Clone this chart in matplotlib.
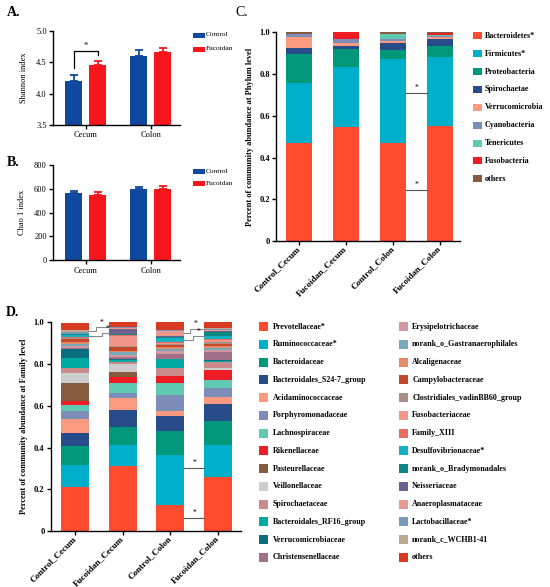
import matplotlib
matplotlib.use("Agg")
import matplotlib.pyplot as plt
import matplotlib.transforms as mtransforms
from matplotlib.patches import Rectangle
import numpy as np

plt.rcParams["font.family"] = ["Liberation Serif", "DejaVu Serif"]

W, H = 550, 587

# ---- panel A / B : alpha diversity ----
sites = ["Cecum", "Colon"]
groups = ["Control", "Fucoidan"]
group_colors = ["#1048A0", "#F8161C"]
shannon_mean = [[4.20, 4.59], [4.45, 4.66]]   # [group][site]
shannon_err = [[0.10, 0.11], [0.07, 0.06]]
chao_mean = [[563, 594], [549, 599]]
chao_err = [[14, 22], [19, 25]]

# ---- panel C : phylum level ----
samples = ["Control_Cecum", "Fucoidan_Cecum", "Control_Colon", "Fucoidan_Colon"]
phyla = ["Bacteroidetes*", "Firmicutes*", "Proteobacteria", "Spirochaetae",
         "Verrucomicrobia", "Cyanobacteria", "Tenericutes", "Fusobacteria", "others"]
phylum_colors = ["#FF4B2E", "#00B0CA", "#00977A", "#284C8A", "#FB9A7E",
                 "#7B8DB8", "#5FC9B2", "#EE1C25", "#875B3E"]
phy_control_cecum = [0.468, 0.291, 0.139, 0.025, 0.055, 0.013, 0.003, 0.000, 0.006]
phy_fucoidan_cecum = [0.548, 0.287, 0.084, 0.014, 0.014, 0.021, 0.002, 0.030, 0.000]
phy_control_colon = [0.468, 0.406, 0.041, 0.035, 0.010, 0.006, 0.028, 0.000, 0.006]
phy_fucoidan_colon = [0.553, 0.329, 0.054, 0.032, 0.008, 0.008, 0.005, 0.006, 0.005]
phy_sig_levels = [0.711, 0.243]

# ---- panel D : family level ----
families = ["Prevotellaceae*", "Ruminococcaceae*", "Bacteroidaceae",
            "Bacteroidales_S24-7_group", "Acidaminococcaceae", "Porphyromonadaceae",
            "Lachnospiraceae", "Rikenellaceae", "Pasteurellaceae", "Veillonellaceae",
            "Spirochaetaceae", "Bacteroidales_RF16_group", "Verrucomicrobiaceae",
            "Christensenellaceae", "Erysipelotrichaceae", "norank_o_Gastranaerophilales",
            "Alcaligenaceae", "Campylobacteraceae", "Clostridiales_vadinBB60_group",
            "Fusobacteriaceae", "Family_XIII", "Desulfovibrionaceae*",
            "norank_o_Bradymonadales", "Neisseriaceae", "Anaeroplasmataceae",
            "Lactobacillaceae*", "norank_c_WCHB1-41", "others"]
family_colors = ["#FF4B2E", "#00B0CA", "#00977A", "#284C8A", "#FB9A7E", "#7B8DB8",
                 "#5FC9B2", "#EE1C25", "#875B3E", "#CDCDCD", "#C98A8A", "#00A9A2",
                 "#0A6E7E", "#A27089", "#D3979F", "#78A9B8", "#E38A69", "#C7472A",
                 "#A99088", "#F2958A", "#E86F5F", "#12B2C4", "#0E8880", "#6E6190",
                 "#EA9990", "#7A99B9", "#BAAA91", "#D93A22"]
fam_control_cecum = [0.209, 0.109, 0.091, 0.059, 0.070, 0.037, 0.027, 0.021, 0.088,
                     0.048, 0.024, 0.044, 0.044, 0.008, 0.006, 0.013, 0.007, 0.013,
                     0.005, 0.004, 0.004, 0.008, 0.003, 0.002, 0.002, 0.006, 0.010,
                     0.037]
fam_fucoidan_cecum = [0.313, 0.099, 0.086, 0.082, 0.057, 0.026, 0.045, 0.028, 0.024,
                      0.042, 0.008, 0.008, 0.008, 0.006, 0.010, 0.014, 0.008, 0.018,
                      0.005, 0.045, 0.005, 0.004, 0.004, 0.022, 0.004, 0.005, 0.002,
                      0.024]
fam_control_colon = [0.125, 0.241, 0.113, 0.074, 0.024, 0.075, 0.059, 0.032, 0.001,
                     0.001, 0.035, 0.043, 0.003, 0.024, 0.012, 0.010, 0.010, 0.008,
                     0.008, 0.005, 0.004, 0.020, 0.004, 0.003, 0.025, 0.003, 0.001,
                     0.040]
fam_fucoidan_colon = [0.257, 0.155, 0.115, 0.083, 0.034, 0.043, 0.037, 0.046, 0.002,
                      0.009, 0.029, 0.004, 0.004, 0.040, 0.008, 0.012, 0.010, 0.006,
                      0.012, 0.010, 0.006, 0.010, 0.021, 0.006, 0.004, 0.006, 0.002,
                      0.029]
fam_sig_levels = [0.300, 0.061]
# step brackets near the top: (y at left bar, y at right bar)
fam_step_cecum = [(0.958, 0.976), (0.934, 0.949)]
fam_step_colon = [(0.951, 0.970), (0.914, 0.935)]


fig = plt.figure(figsize=(W / 100, H / 100), dpi=100)


def px_axes(l, t, r, b):
    return fig.add_axes([l / W, 1 - b / H, (r - l) / W, (b - t) / H])


def fig_patch(x, yc, w, h, color):
    fig.patches.append(Rectangle((x / W, 1 - (yc + h / 2) / H), w / W, h / H,
                                 transform=fig.transFigure, facecolor=color,
                                 edgecolor="none"))


def fig_label(x, yc, s, **kw):
    fig.text(x / W, 1 - yc / H, s, va="center", ha="left", **kw)


def style_axes(ax, lw=1.0):
    for side in ("top", "right"):
        ax.spines[side].set_visible(False)
    for side in ("left", "bottom"):
        ax.spines[side].set_linewidth(lw)
    ax.tick_params(direction="out", length=3, width=lw, pad=1.5)


def alpha_panel(ax, means, errs, yticks, ylabel):
    offs = [-0.184, 0.184]
    xs = np.arange(len(sites))
    for g in range(len(groups)):
        ax.bar(xs + offs[g], means[g], width=0.26, color=group_colors[g], zorder=2)
        ax.errorbar(xs + offs[g], means[g], yerr=[np.zeros(len(sites)), errs[g]],
                    fmt="none", ecolor=group_colors[g], elinewidth=1.3, capsize=3,
                    capthick=1.3, zorder=1)
    ax.set_xlim(-0.498, 1.447)
    ax.set_ylim(yticks[0], yticks[-1])
    ax.set_yticks(yticks)
    ax.set_xticks(xs)
    ax.set_xticklabels(sites, fontsize=6)
    ax.set_ylabel(ylabel, fontsize=6, labelpad=6)
    ax.tick_params(axis="y", labelsize=6)
    style_axes(ax)


# ---- A ----
axA = px_axes(53, 30.7, 180, 125)
alpha_panel(axA, shannon_mean, shannon_err, [3.5, 4.0, 4.5, 5.0], "Shannon index")
axA.set_yticklabels(["3.5", "4.0", "4.5", "5.0"])
axA.plot([-0.184, -0.184, 0.184, 0.184], [4.41, 4.68, 4.68, 4.61],
         color="black", lw=0.9, zorder=3)
axA.text(0.0, 4.70, "*", ha="center", va="bottom", fontsize=6)
for g in range(2):
    fig_patch(193, 35 + 14 * g, 12, 5, group_colors[g])
    fig_label(206, 35 + 14 * g, groups[g], fontsize=5.3)
fig.text(7 / W, 1 - 13 / H, "A.", fontsize=10, fontweight="bold", va="center")

# ---- B ----
axB = px_axes(53, 164.7, 180, 260.3)
alpha_panel(axB, chao_mean, chao_err, [0, 200, 400, 600, 800], "Chao 1 index")
for g in range(2):
    fig_patch(193, 171.3 + 12 * g, 12, 5, group_colors[g])
    fig_label(206, 171.3 + 12 * g, groups[g], fontsize=5.3)
fig.text(7 / W, 1 - 162 / H, "B.", fontsize=10, fontweight="bold", va="center")


def stacked_panel(ax, data, colors, width):
    xs = np.arange(len(samples))
    bottoms = np.zeros(len(samples))
    data = np.array(data).T  # taxa x samples
    for k in range(data.shape[0]):
        ax.bar(xs, data[k], width=width, bottom=bottoms, color=colors[k],
               linewidth=0, zorder=2)
        bottoms += data[k]
    ax.set_ylim(0, 1.0)
    ax.set_yticks([0, 0.2, 0.4, 0.6, 0.8, 1.0])
    ax.set_yticklabels(["0", "0.2", "0.4", "0.6", "0.8", "1.0"],
                       fontsize=6, fontweight="bold")
    ax.set_xticks(xs)
    ax.set_xticklabels(samples, rotation=45, ha="right", va="center",
                       rotation_mode="anchor", fontsize=6.5, fontweight="bold")
    # labels sit a little right of their ticks in the original
    shift = mtransforms.ScaledTranslation(12 / 100, -2 / 100, fig.dpi_scale_trans)
    for lab in ax.get_xticklabels():
        lab.set_transform(lab.get_transform() + shift)
    style_axes(ax)


# ---- C ----
axC = px_axes(276, 32.3, 460, 241)
cw = 0.553
stacked_panel(axC, [phy_control_cecum, phy_fucoidan_cecum,
                    phy_control_colon, phy_fucoidan_colon], phylum_colors, cw)
axC.set_xlim(-0.49, 3.43)
axC.set_ylabel("Percent of community abundance at Phylum level",
               fontsize=6, fontweight="bold", labelpad=4)
for yv in phy_sig_levels:
    axC.plot([2 + cw / 2, 3 - cw / 2], [yv, yv], color="#555555", lw=0.8, zorder=3)
    axC.text(2.5, yv + 0.005, "*", ha="center", va="bottom", fontsize=5.5)
for k, name in enumerate(phyla):
    yc = 35.7 + 17.9 * k
    fig_patch(473, yc, 9, 7, phylum_colors[k])
    fig_label(485, yc, name, fontsize=5.8, fontweight="bold")
fig.text(235 / W, 1 - 13 / H, "C.", fontsize=10, va="center")

# ---- D ----
axD = px_axes(50.7, 322.3, 241, 531)
dw = 0.59
stacked_panel(axD, [fam_control_cecum, fam_fucoidan_cecum,
                    fam_control_colon, fam_fucoidan_colon], family_colors, dw)
axD.set_xlim(-0.51, 3.48)
axD.set_ylabel("Percent of community abundance at Family level",
               fontsize=6, fontweight="bold", labelpad=4)
for yv in fam_sig_levels:
    axD.plot([2 + dw / 2, 3 - dw / 2], [yv, yv], color="#555555", lw=0.8, zorder=3)
    axD.text(2.5, yv + 0.005, "*", ha="center", va="bottom", fontsize=5.5)
for base, steps, stepx in [(0, fam_step_cecum, [0.44, 0.56]),
                           (2, fam_step_colon, [2.41, 2.47])]:
    for (y0, y1), sx in zip(steps, stepx):
        axD.plot([base + dw / 2, sx, sx, base + 1 - dw / 2], [y0, y0, y1, y1],
                 color="#888888", lw=0.8, zorder=3, clip_on=False)
        axD.text(sx + 0.12, y1 + 0.002, "*", ha="center", va="bottom", fontsize=5.5)
half = (len(families) + 1) // 2
for k, name in enumerate(families):
    col, row = divmod(k, half)
    yc = 326.7 + 17.75 * row
    x0 = 259 if col == 0 else 398.7
    fig_patch(x0, yc, 9.3, 9, family_colors[k])
    fig_label(x0 + 13.5, yc, name, fontsize=5.8, fontweight="bold")
fig.text(6 / W, 1 - 312.5 / H, "D.", fontsize=10, fontweight="bold", va="center")

fig.savefig("out.png", dpi=100)
